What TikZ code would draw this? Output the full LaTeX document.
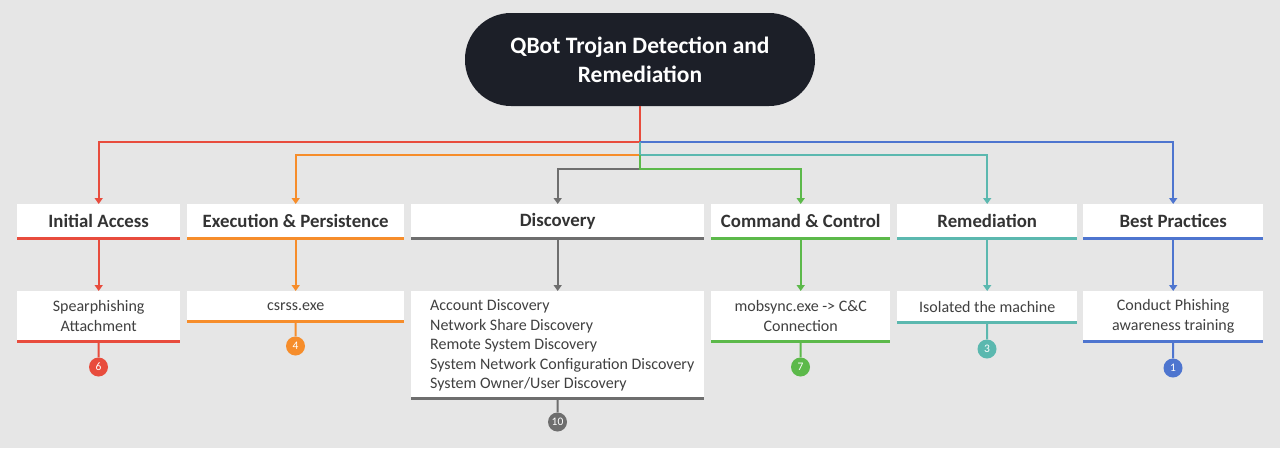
\documentclass[tikz,border=0pt]{standalone}
\usepackage{fontspec}
\setmainfont{Carlito}
\usetikzlibrary{arrows.meta,calc}
\definecolor{bg}{HTML}{E6E6E6}
\definecolor{cred}{HTML}{E84C3D}
\definecolor{corange}{HTML}{F68D2B}
\definecolor{cgray}{HTML}{6E6E6E}
\definecolor{cgreen}{HTML}{5CB94A}
\definecolor{cteal}{HTML}{5BB8AF}
\definecolor{cblue}{HTML}{4E75CF}
\definecolor{rootfill}{HTML}{1C1F28}
\definecolor{hdrtext}{HTML}{333333}
\definecolor{dettext}{HTML}{404040}
\begin{document}
\begin{tikzpicture}[x=1pt,y=-1pt,
  hdr/.style={fill=white, anchor=north west, minimum height=34pt, inner sep=0pt,
    font=\fontsize{18.8}{21}\selectfont\bfseries, text=hdrtext},
  det/.style={fill=white, anchor=north west, inner sep=0pt,
    font=\fontsize{16}{19.5}\selectfont, text=dettext, align=center},
  dtext/.style={inner sep=0pt, font=\fontsize{16}{19.5}\selectfont, text=dettext, align=left},
  badge/.style={circle, minimum size=19pt, inner sep=0pt,
    font=\fontsize{11.5}{11.5}\selectfont, text=white},
  conn/.style={line width=2pt},
  arr/.style={conn, -{Triangle[width=8pt,length=6pt]}},
  uline/.style={line width=3pt},
]
\fill[bg] (0,0) rectangle (1280,448);
\useasboundingbox (0,0) rectangle (1280,448);

% root
\node[fill=rootfill, rounded corners=46pt, minimum width=350pt, minimum height=93pt,
  inner sep=0pt, text=white, font=\fontsize{23.5}{29}\selectfont\bfseries, align=center]
  (root) at (640,59.5) {QBot Trojan Detection and\\Remediation};

% headers
\node[hdr, minimum width=163pt] (h1) at (17,204) {Initial Access};
\node[hdr, minimum width=217pt] (h2) at (187,204) {Execution \& Persistence};
\node[hdr, minimum width=293pt] (h3) at (411,204) {Discovery};
\node[hdr, minimum width=179pt] (h4) at (711,204) {Command \& Control};
\node[hdr, minimum width=180pt] (h5) at (897,204) {Remediation};
\node[hdr, minimum width=180pt] (h6) at (1083,204) {Best Practices};

\draw[uline, cred] (h1.south west) -- (h1.south east);
\draw[uline, corange] (h2.south west) -- (h2.south east);
\draw[uline, cgray] (h3.south west) -- (h3.south east);
\draw[uline, cgreen] (h4.south west) -- (h4.south east);
\draw[uline, cteal] (h5.south west) -- (h5.south east);
\draw[uline, cblue] (h6.south west) -- (h6.south east);

% details
\node[det, minimum width=163pt, minimum height=50pt] (d1) at (17,291) {Spearphishing\\Attachment};
\node[det, minimum width=217pt, minimum height=30pt] (d2) at (187,291) {csrss.exe};
\node[det, minimum width=293pt, minimum height=107pt] (d3) at (411,291) {};
\node[dtext, anchor=west] (d3t) at ($(d3.west)+(19,1)$) {Account Discovery\\Network Share Discovery\\Remote System Discovery\\System Network Configuration Discovery\\System Owner/User Discovery};
\node[det, minimum width=179pt, minimum height=50pt] (d4) at (711,291) {mobsync.exe -> C\&C\\Connection};
\node[det, minimum width=180pt, minimum height=31pt] (d5) at (897,291) {Isolated the machine};
\node[det, minimum width=180pt, minimum height=50pt] (d6) at (1083,291) {Conduct Phishing\\awareness training};

\draw[uline, cred] (d1.south west) -- (d1.south east);
\draw[uline, corange] (d2.south west) -- (d2.south east);
\draw[uline, cgray] (d3.south west) -- (d3.south east);
\draw[uline, cgreen] (d4.south west) -- (d4.south east);
\draw[uline, cteal] (d5.south west) -- (d5.south east);
\draw[uline, cblue] (d6.south west) -- (d6.south east);

% badges
\node[badge, fill=cred] (b1) at (98.5,367) {6};
\node[badge, fill=corange] (b2) at (295.5,346) {4};
\node[badge, fill=cgray] (b3) at (557.5,422) {10};
\node[badge, fill=cgreen] (b4) at (800.5,367) {7};
\node[badge, fill=cteal] (b5) at (987,349) {3};
\node[badge, fill=cblue] (b6) at (1173,368) {1};

% trunk junctions
\coordinate (jr) at (640,141.5);
\coordinate (jt) at (640,155);
\coordinate (jg) at (640,168.5);

\draw[conn, cred] (root.south) -- (jr);
\draw[arr, cred] (jr) -| (h1.north);
\draw[arr, cblue] (jr) -| (h6.north);
\draw[arr, corange] (jt) -| (h2.north);
\draw[arr, cteal] (jr) -- (jt) -| (h5.north);
\draw[arr, cgray] (jg) -| (h3.north);
\draw[arr, cgreen] (jt) -- (jg) -| (h4.north);

% header to detail
\draw[arr, cred] (h1.south) -- (d1.north);
\draw[arr, corange] (h2.south) -- (d2.north);
\draw[arr, cgray] (h3.south) -- (d3.north);
\draw[arr, cgreen] (h4.south) -- (d4.north);
\draw[arr, cteal] (h5.south) -- (d5.north);
\draw[arr, cblue] (h6.south) -- (d6.north);

% detail to badge
\draw[conn, cred] (d1.south) -- (b1.north);
\draw[conn, corange] (d2.south) -- (b2.north);
\draw[conn, cgray] (d3.south) -- (b3.north);
\draw[conn, cgreen] (d4.south) -- (b4.north);
\draw[conn, cteal] (d5.south) -- (b5.north);
\draw[conn, cblue] (d6.south) -- (b6.north);
\end{tikzpicture}
\end{document}
